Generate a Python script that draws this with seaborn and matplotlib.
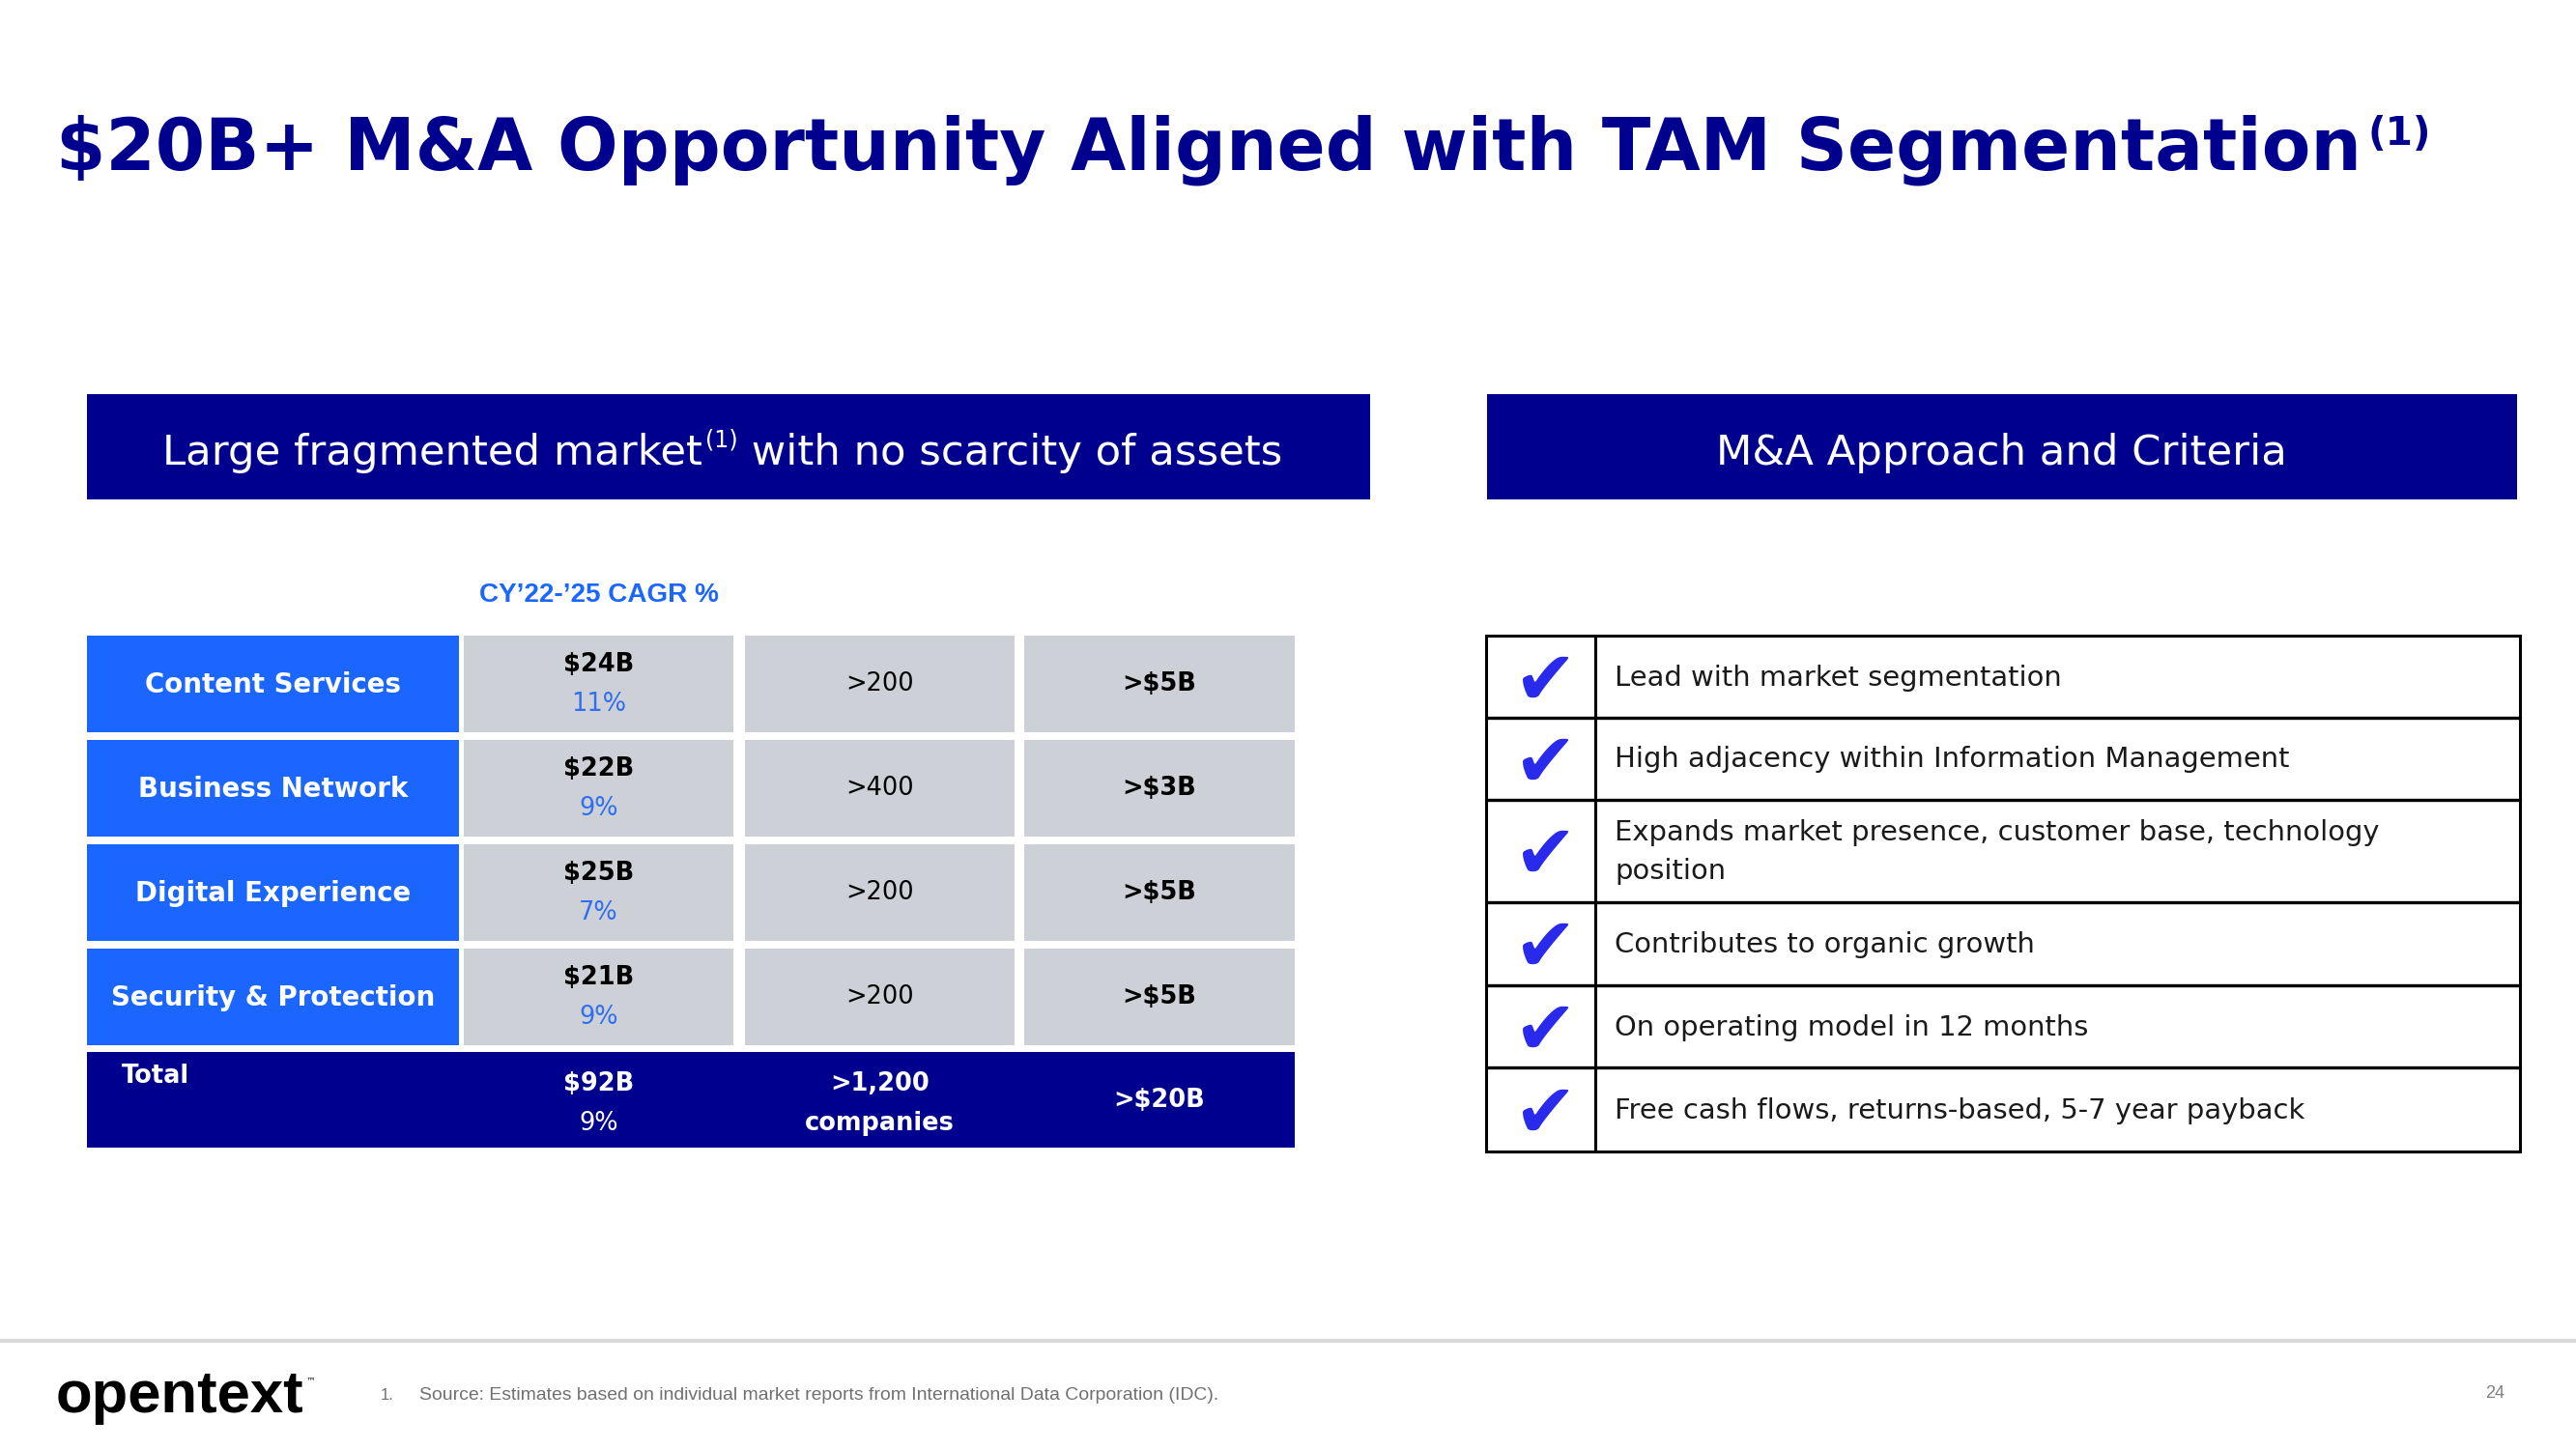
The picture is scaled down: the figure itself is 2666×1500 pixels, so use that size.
import matplotlib
matplotlib.use("Agg")
import matplotlib.pyplot as plt
from matplotlib.patches import Rectangle
import seaborn as sns

# ---------------- data ----------------
title_main = "$20B+ M&A Opportunity Aligned with TAM Segmentation"
title_sup = "(1)"
left_banner = ["Large fragmented market", "(1)", " with no scarcity of assets"]
right_banner = "M&A Approach and Criteria"
cagr_label = "CY\u201922-\u201925 CAGR %"

segments = ["Content Services", "Business Network", "Digital Experience", "Security & Protection"]
tam = ["$24B", "$22B", "$25B", "$21B"]
cagr = ["11%", "9%", "7%", "9%"]
companies = [">200", ">400", ">200", ">200"]
value = [">$5B", ">$3B", ">$5B", ">$5B"]

total_label = "Total"
total_tam = "$92B"
total_cagr = "9%"
total_companies = [">1,200", "companies"]
total_value = ">$20B"

criteria = [
    ["Lead with market segmentation"],
    ["High adjacency within Information Management"],
    ["Expands market presence, customer base, technology", "position"],
    ["Contributes to organic growth"],
    ["On operating model in 12 months"],
    ["Free cash flows, returns-based, 5-7 year payback"],
]

footnote_num = "1."
footnote = "Source: Estimates based on individual market reports from International Data Corporation (IDC)."
logo = "opentext"
page = "24"

# ---------------- style ----------------
sns.set_theme(style="white")
plt.rcParams["font.family"] = ["DejaVu Sans"]
plt.rcParams["text.parse_math"] = False

NAVY = "#00008f"
BLUE = "#1a66ff"
GRAY = "#cdd0d6"
PCT = "#2f6ff0"
CHECK = "#2a2aec"

fig = plt.figure(figsize=(26.66, 15), dpi=100)
ax = fig.add_axes([0, 0, 1, 1])
ax.set_xlim(0, 2666)
ax.set_ylim(1500, 0)
ax.axis("off")
renderer = fig.canvas.get_renderer()
inv = ax.transData.inverted()


def txt(s, x, y, width=None, size=10, ha="left", va="baseline", **kw):
    t = ax.text(x, y, s, fontsize=size, ha=ha, va=va, **kw)
    if width:
        w = t.get_window_extent(renderer).width
        t.set_fontsize(size * width / w)
    return t


def right_edge(t):
    return t.get_window_extent(renderer).transformed(inv).x1


# ---------------- title ----------------
t = txt(title_main, 58, 175, width=2385, color=NAVY, fontweight="bold")
txt(title_sup, right_edge(t) + 7, 150, width=66, color=NAVY, fontweight="bold")

# ---------------- banners ----------------
ax.add_patch(Rectangle((90, 408), 1328, 109, color=NAVY, lw=0))
ax.add_patch(Rectangle((1539, 408), 1066, 109, color=NAVY, lw=0))
b1 = txt(left_banner[0], 168, 481, width=560, color="white")
fs_b = b1.get_fontsize()
b2 = txt(left_banner[1], right_edge(b1) + 3, 462, size=fs_b * 0.55, color="white")
txt(left_banner[2], right_edge(b2), 481, size=fs_b, color="white")
txt(right_banner, 2071, 481, size=fs_b, ha="center", color="white")

# ---------------- left table ----------------
txt(cagr_label, 620, 623, width=247, ha="center", color=BLUE, fontweight="bold",
    family=["Liberation Sans", "DejaVu Sans"])

cols = [(90, 475), (480, 759), (771, 1050), (1060, 1340)]
row_tops = [658, 766, 874, 982]
row_h = 100

probe = txt(segments[3], -5000, 0, width=335, fontweight="bold")
seg_size = probe.get_fontsize()
probe.remove()
cell = seg_size * 0.93
xc = [(a + b) / 2 for a, b in cols]

for i, seg in enumerate(segments):
    top = row_tops[i]
    cy = top + row_h / 2
    ax.add_patch(Rectangle((cols[0][0], top), cols[0][1] - cols[0][0], row_h, color=BLUE, lw=0))
    for c in cols[1:]:
        ax.add_patch(Rectangle((c[0], top), c[1] - c[0], row_h, color=GRAY, lw=0))
    txt(seg, xc[0], cy + 1, size=seg_size, ha="center", va="center", color="white", fontweight="bold")
    txt(tam[i], xc[1], cy - 20, size=cell, ha="center", va="center", color="black", fontweight="bold")
    txt(cagr[i], xc[1], cy + 21, size=cell, ha="center", va="center", color=PCT)
    txt(companies[i], xc[2], cy, size=cell, ha="center", va="center", color="black")
    txt(value[i], xc[3], cy, size=cell, ha="center", va="center", color="black", fontweight="bold")

# total row
ttop, tbot = 1089, 1188
ax.add_patch(Rectangle((90, ttop), 1250, tbot - ttop, color=NAVY, lw=0))
txt(total_label, 126, 1114, size=cell, ha="left", va="center", color="white", fontweight="bold")
txt(total_tam, xc[1], 1122, size=cell, ha="center", va="center", color="white", fontweight="bold")
txt(total_cagr, xc[1], 1163, size=cell, ha="center", va="center", color="white")
txt(total_companies[0], xc[2], 1122, size=cell, ha="center", va="center", color="white", fontweight="bold")
txt(total_companies[1], xc[2], 1163, size=cell, ha="center", va="center", color="white", fontweight="bold")
txt(total_value, xc[3], 1139, size=cell, ha="center", va="center", color="white", fontweight="bold")

# ---------------- criteria table ----------------
cx0, cdiv, cx1 = 1538, 1651, 2608
lines_y = [658, 743, 828, 934, 1020, 1105, 1192]
ax.add_patch(Rectangle((cx0, lines_y[0]), cx1 - cx0, lines_y[-1] - lines_y[0],
                       fill=False, ec="black", lw=2.2))
ax.plot([cdiv, cdiv], [lines_y[0], lines_y[-1]], color="black", lw=2.2)
for yy in lines_y[1:-1]:
    ax.plot([cx0, cx1], [yy, yy], color="black", lw=2.4)

probe = txt(criteria[1][0], -5000, 0, width=699)
crit_size = probe.get_fontsize()
probe.remove()

for i, item in enumerate(criteria):
    top, bot = lines_y[i], lines_y[i + 1]
    cy = (top + bot) / 2
    txt("\u2714", 1600, cy + 6, size=56, ha="center", va="center", color=CHECK)
    if len(item) == 1:
        txt(item[0], 1671, cy + 1, size=crit_size, ha="left", va="center", color="#1a1a1a")
    else:
        txt(item[0], 1671, cy - 19, size=crit_size, ha="left", va="center", color="#1a1a1a")
        txt(item[1], 1671, cy + 21, size=crit_size, ha="left", va="center", color="#1a1a1a")

# ---------------- footer ----------------
ax.plot([0, 2666], [1388, 1388], color="#d9d9d9", lw=3)
lg = txt(logo, 58, 1462, width=257, color="black", fontweight="bold",
         family=["Liberation Sans", "DejaVu Sans"])
txt("\u2122", right_edge(lg) + 2, 1432, size=7, color="black")
txt(footnote_num, 394, 1449, size=12, color="#707070", family=["Liberation Sans", "DejaVu Sans"])
txt(footnote, 434, 1449, width=826, color="#707070", family=["Liberation Sans", "DejaVu Sans"])
txt(page, 2572, 1447, size=13, color="#808080", family=["Liberation Sans", "DejaVu Sans"])

fig.savefig("out.png", dpi=100, facecolor="white")
